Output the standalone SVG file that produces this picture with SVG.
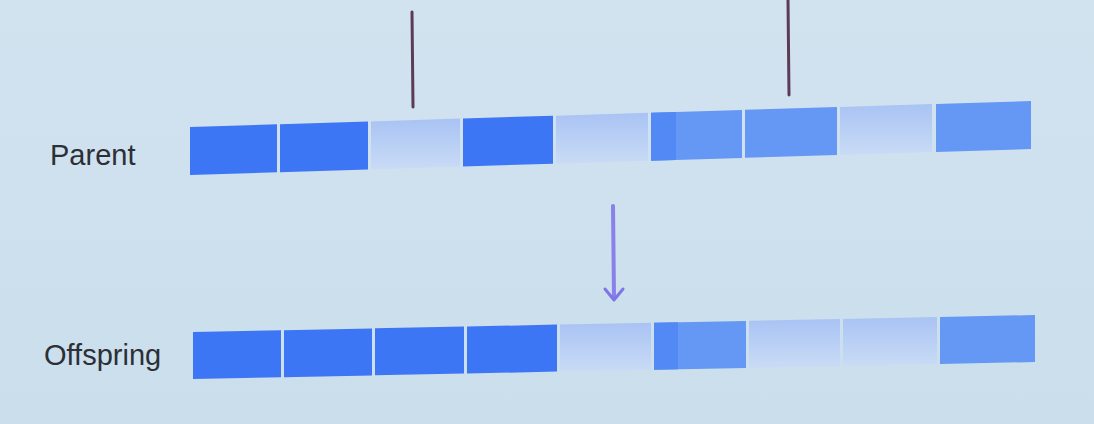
<svg xmlns="http://www.w3.org/2000/svg" width="1094" height="424" viewBox="0 0 1094 424">
<defs>
<linearGradient id="bg" x1="0" y1="0" x2="0" y2="1">
<stop offset="0" stop-color="#d2e3f0"/>
<stop offset="1" stop-color="#cadeec"/>
</linearGradient>
<linearGradient id="lite" x1="0" y1="0" x2="0" y2="1">
<stop offset="0" stop-color="#a9c3f4"/>
<stop offset="1" stop-color="#c9dbf5"/>
</linearGradient>
<style>
.d{fill:#3c76f4}
.m{fill:#6597f5}
.l{fill:url(#lite)}
.s{fill:#5289f4}
.lbl{font-family:"Liberation Sans",Arial,sans-serif;font-size:29px;fill:#2c2f36}
.cut{stroke:#5b3b55;stroke-width:3;stroke-linecap:round}
</style>
</defs>
<rect width="1094" height="424" fill="url(#bg)"/>

<g id="label-parent"><text class="lbl" x="50" y="165">Parent</text></g>
<g id="label-offspring"><text class="lbl" x="44" y="365">Offspring</text></g>

<g id="parent">
<polygon class="d" points="190,127 277,124.3 277,172.3 190,175"/>
<polygon class="d" points="280,124.2 368,121.5 368,169.5 280,172.2"/>
<polygon class="l" points="371,121.4 460,118.6 460,166.6 371,169.4"/>
<polygon class="d" points="463,118.5 553,115.7 553,163.7 463,166.5"/>
<polygon class="l" points="556,115.7 648,112.8 648,160.8 556,163.7"/>
<polygon class="m" points="651,112.7 742,109.9 742,157.9 651,160.7"/>
<polygon class="s" points="651,112.7 676,111.9 676,159.9 651,160.7"/>
<polygon class="m" points="745,109.8 837,107 837,155 745,157.8"/>
<polygon class="l" points="840,106.9 932,104 932,152 840,154.9"/>
<polygon class="m" points="936,103.9 1031,101 1031,149 936,151.9"/>
</g>

<g id="offspring">
<polygon class="d" points="193,332 281,330.2 281,377.2 193,379"/>
<polygon class="d" points="284,330.2 372,328.4 372,375.4 284,377.2"/>
<polygon class="d" points="375,328.3 464,326.5 464,373.5 375,375.3"/>
<polygon class="d" points="467,326.5 557,324.6 557,371.6 467,373.5"/>
<polygon class="l" points="560,324.6 651,322.8 651,369.8 560,371.6"/>
<polygon class="m" points="654,322.7 746,320.9 746,367.9 654,369.7"/>
<polygon class="s" points="654,322.7 678,322.2 678,369.2 654,369.7"/>
<polygon class="l" points="749,320.8 840,319 840,366 749,367.8"/>
<polygon class="l" points="843,318.9 937,317 937,364 843,365.9"/>
<polygon class="m" points="940,317 1035,315 1035,362 940,364"/>
</g>

<g id="connectors">
<line class="cut" x1="412" y1="12" x2="413" y2="107"/>
<line class="cut" x1="788" y1="0" x2="789" y2="95"/>
<line x1="613" y1="206" x2="614" y2="297" stroke="#8a80ea" stroke-width="4" stroke-linecap="round"/>
<path d="M605,289 L614,300 L623,289" fill="none" stroke="#7f76e6" stroke-width="3" stroke-linejoin="round" stroke-linecap="round"/>
</g>
</svg>
